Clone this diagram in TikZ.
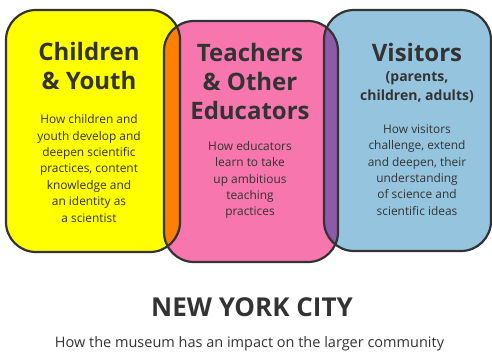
\documentclass[tikz,border=0pt]{standalone}
\usepackage{fontspec}
\setmainfont{Open Sans}
\definecolor{ink}{HTML}{333333}
\definecolor{cyellow}{HTML}{FFFF00}
\definecolor{cpink}{HTML}{F776AE}
\definecolor{cblue}{HTML}{95C5DE}
\definecolor{corange}{HTML}{FF8000}
\definecolor{cpurple}{HTML}{8C5AA6}
\begin{document}
\begin{tikzpicture}[x=1pt,y=-1pt,
  boxline/.style={draw=ink,line width=2.2pt,rounded corners=30pt},
  title/.style={text=ink,align=center,font=\bfseries\fontsize{24}{29}\selectfont,inner sep=0pt},
  sub/.style={text=ink,align=center,font=\bfseries\fontsize{14}{19}\selectfont,inner sep=0pt},
  body/.style={text=ink,align=center,font=\fontsize{11.9}{16.4}\selectfont,inner sep=0pt}]
\useasboundingbox (0,0) rectangle (492,352);
\def\ybox{(6,10) rectangle (180,252)}
\def\pbox{(164,21) rectangle (338,262)}
\def\bbox{(324,10) rectangle (491,251)}
\fill[cyellow,rounded corners=30pt] \ybox;
\fill[cpink,rounded corners=30pt] \pbox;
\fill[cblue,rounded corners=30pt] \bbox;
\begin{scope}
  \clip[rounded corners=30pt] \ybox;
  \fill[corange,rounded corners=30pt] \pbox;
\end{scope}
\begin{scope}
  \clip[rounded corners=30pt] \bbox;
  \fill[cpurple,rounded corners=30pt] \pbox;
\end{scope}
\draw[boxline] \ybox;
\draw[boxline] \pbox;
\draw[boxline] \bbox;
% yellow
\node[title] (yt) at (89,66) {Children\\\& Youth};
\node[body] (yb) at (89,168.5) {How children and\\youth develop and\\deepen scientific\\practices, content\\knowledge and\\an identity as\\a scientist};
% pink
\node[title] (pt) at (250,82) {Teachers\\\& Other\\Educators};
\node[body] (pb) at (250,180) {How educators\\learn to take\\up ambitious\\teaching\\practices};
% blue
\node[title] (bt) at (417,53) {Visitors};
\node[sub] (bs) at (417,87) {(parents,\\children, adults)};
\node[body] (bb) at (417,170) {How visitors\\challenge, extend\\and deepen, their\\understanding\\of science and\\scientific ideas};
% bottom
\node[text=ink,font=\bfseries\fontsize{26}{30}\selectfont,inner sep=0pt] (nyc) at (252,307) {NEW YORK CITY};
\node[text=ink,font=\fontsize{14.5}{17}\selectfont,inner sep=0pt] (imp) at (249.5,344) {How the museum has an impact on the larger community};
\end{tikzpicture}
\end{document}
